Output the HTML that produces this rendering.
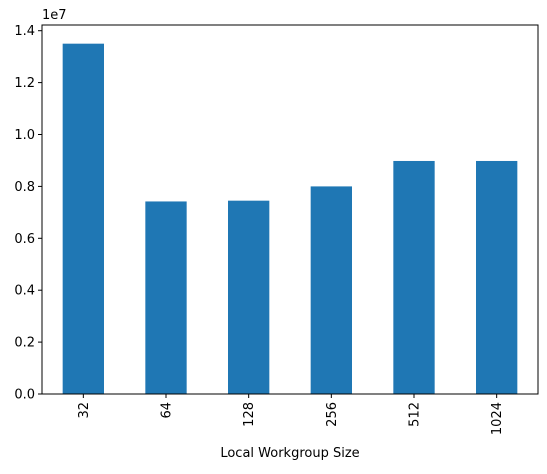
<!DOCTYPE html>
<html><head><meta charset="utf-8"><style>
body{margin:0;background:#fff;font-family:"Liberation Sans","DejaVu Sans",sans-serif}
</style></head><body>
<svg id="chart" width="547" height="469" xmlns="http://www.w3.org/2000/svg" font-family="DejaVu Sans, Liberation Sans, sans-serif" font-size="13"></svg>
<script>
const categories=["32","64","128","256","512","1024"];
const values=[13.5e6,7.42e6,7.45e6,8.0e6,8.98e6,8.98e6];
const yTicks=[0,0.2,0.4,0.6,0.8,1.0,1.2,1.4];
const L=42,R=538,T=25,B=394,yMax=1.4e7,y14=30.7;
const NS="http://www.w3.org/2000/svg";
const svg=document.getElementById('chart');
function y(v){return B-(v/yMax)*(B-y14);}
const slot=(R-L)/categories.length;
function xc(i){return L+slot*(i+0.5);}
function mk(t,a,txt){const e=document.createElementNS(NS,t);for(const k in a)e.setAttribute(k,a[k]);if(txt!==undefined)e.textContent=txt;svg.appendChild(e);return e;}
categories.forEach((c,i)=>{
 const r=mk('rect',{x:xc(i)-slot/4,y:y(values[i]),width:slot/2,height:B-y(values[i]),fill:'#1f77b4'});
 
 
 const tk=mk('line',{x1:xc(i),x2:xc(i),y1:B,y2:B+4,stroke:'#000'});
 
 
 const t=mk('text',{x:0,y:0,transform:`translate(${xc(i)+4.5},${B+8}) rotate(-90)`,'text-anchor':'end'},c);
 
 
});
yTicks.forEach(v=>{
 const yy=y(v*1e7);
 const tk=mk('line',{x1:L-4,x2:L,y1:yy,y2:yy,stroke:'#000'});
 
 
 const t=mk('text',{x:L-7,y:yy+4.5,'text-anchor':'end'},v.toFixed(1));
 
 
});
const f=mk('rect',{x:L,y:T,width:R-L,height:B-T,fill:'none',stroke:'#000','stroke-width':1});


const off=mk('text',{x:L,y:T-6},'1e7');


const xt=mk('text',{x:(L+R)/2,y:457,'text-anchor':'middle'},'Local Workgroup Size');


</script>
</body></html>
